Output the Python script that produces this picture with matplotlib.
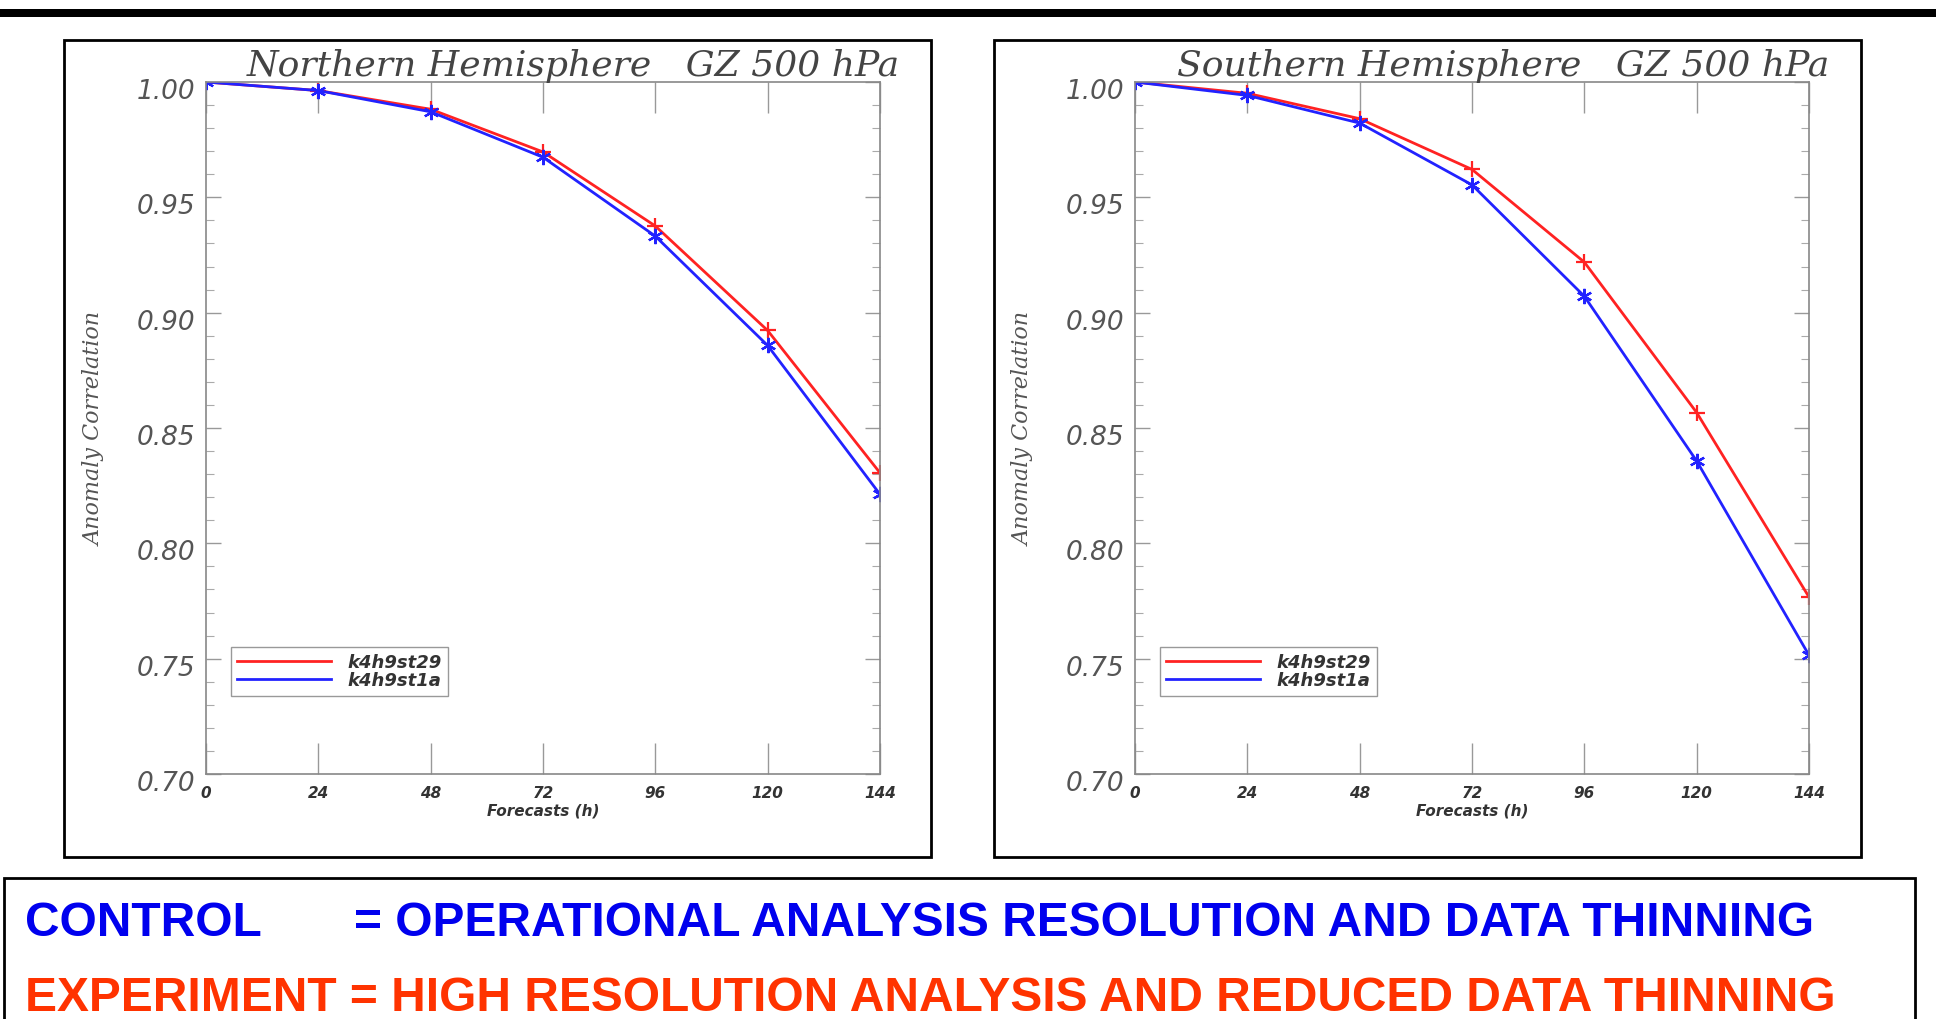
import numpy as np
import matplotlib
matplotlib.use("Agg")
import matplotlib.pyplot as plt
import matplotlib.transforms as mtransforms
from matplotlib.patches import Rectangle
from matplotlib.lines import Line2D
from matplotlib.ticker import MultipleLocator

# Forecast lead times (h)
hours = [0, 24, 48, 72, 96, 120, 144]

# Northern Hemisphere anomaly correlation
nh_k4h9st29 = [1.000, 0.9963, 0.9882, 0.9697, 0.9376, 0.8923, 0.8306]
nh_k4h9st1a = [1.000, 0.9963, 0.9871, 0.9674, 0.9332, 0.8858, 0.8213]

# Southern Hemisphere anomaly correlation
sh_k4h9st29 = [1.000, 0.9951, 0.9841, 0.9621, 0.9219, 0.8567, 0.7767]
sh_k4h9st1a = [1.000, 0.9942, 0.9822, 0.9554, 0.9071, 0.8357, 0.7515]

titles = ["Northern Hemisphere   GZ 500 hPa", "Southern Hemisphere   GZ 500 hPa"]
series_names = ["k4h9st29", "k4h9st1a"]

RED = "#ff2222"
BLUE = "#2222ff"
GREY = "#555555"

fig = plt.figure(figsize=(19.36, 10.2), dpi=100)

# thick black bar along the top
fig.add_artist(Rectangle((0, 0.9824), 1, 0.0078, transform=fig.transFigure,
                         facecolor="black", edgecolor="none"))

panels = [
    # frame (left, bottom, w, h), axes (left, bottom, w, h), data
    ((0.0331, 0.159, 0.4478, 0.801), (0.1064, 0.2402, 0.3481, 0.6784), nh_k4h9st29, nh_k4h9st1a),
    ((0.5134, 0.159, 0.4478, 0.801), (0.5863, 0.2402, 0.3481, 0.6784), sh_k4h9st29, sh_k4h9st1a),
]

for i, (frame, pos, red_vals, blue_vals) in enumerate(panels):
    fig.add_artist(Rectangle(frame[:2], frame[2], frame[3], transform=fig.transFigure,
                             facecolor="none", edgecolor="black", linewidth=2))
    ax = fig.add_axes(pos)
    ax.plot(hours, red_vals, color=RED, lw=2, marker="+", ms=12, mew=1.6)
    ax.plot(hours, blue_vals, color=BLUE, lw=2, marker=(6, 2, 0), ms=11, mew=1.6)

    ax.set_xlim(0, 144)
    ax.set_ylim(0.70, 1.00)
    ax.set_xticks(hours)
    ax.yaxis.set_major_locator(MultipleLocator(0.05))
    ax.yaxis.set_minor_locator(MultipleLocator(0.01))
    ax.set_yticklabels([f"{v:.2f}" for v in ax.get_yticks()])

    for sp in ax.spines.values():
        sp.set_color("#888888")
        sp.set_linewidth(1.2)
    ax.tick_params(axis="x", which="major", direction="in", top=True, length=22, width=1,
                   color="#999999", labelsize=11, labelcolor="#333333", pad=8)
    ax.tick_params(axis="y", which="major", direction="in", right=True, length=11, width=1,
                   color="#999999", labelsize=19, labelcolor=GREY, pad=8)
    ax.tick_params(axis="y", which="minor", direction="in", right=True, length=6, width=0.8,
                   color="#aaaaaa")
    for lab in ax.get_xticklabels():
        lab.set_fontstyle("italic")
        lab.set_fontweight("bold")
    off = mtransforms.ScaledTranslation(0, -6 / 100, fig.dpi_scale_trans)
    for lab in ax.get_yticklabels():
        lab.set_fontstyle("italic")
        lab.set_transform(lab.get_transform() + off)

    ax.set_title(titles[i], fontsize=26, family="DejaVu Serif", style="italic",
                 color="#444444", loc="right", pad=5, x=1.03)
    ax.set_xlabel("Forecasts (h)", fontsize=11, style="italic", weight="bold",
                  color="#333333", labelpad=2)
    ax.set_ylabel("Anomaly Correlation", fontsize=16, family="DejaVu Serif",
                  style="italic", color=GREY, labelpad=22)

    # legend shows plain lines only
    handles = [Line2D([], [], color=RED, lw=2), Line2D([], [], color=BLUE, lw=2)]
    leg = ax.legend(handles, series_names, loc="lower left", bbox_to_anchor=(0.037, 0.113),
                    handlelength=5.2, borderpad=0.35, labelspacing=0.0, fancybox=False,
                    edgecolor="#999999", framealpha=1, handletextpad=0.9, borderaxespad=0,
                    prop={"style": "italic", "weight": "bold", "size": 13})
    leg.get_frame().set_linewidth(1)
    for txt in leg.get_texts():
        txt.set_color("#333333")

# bottom caption box
fig.add_artist(Rectangle((0.002, -0.01), 0.987, 0.148, transform=fig.transFigure,
                         facecolor="none", edgecolor="black", linewidth=2))
cap_font = ["Liberation Sans", "DejaVu Sans"]
cap_size = 34.5
fig.text(0.013, 0.095, "CONTROL", color="#0000ee", fontsize=cap_size, weight="bold",
         family=cap_font, va="center")
fig.text(0.183, 0.095, "= OPERATIONAL ANALYSIS RESOLUTION AND DATA THINNING",
         color="#0000ee", fontsize=cap_size, weight="bold", family=cap_font, va="center")
fig.text(0.013, 0.021, "EXPERIMENT = HIGH RESOLUTION ANALYSIS AND REDUCED DATA THINNING",
         color="#ff3300", fontsize=cap_size, weight="bold", family=cap_font, va="center")

fig.savefig("out.png", dpi=100)
